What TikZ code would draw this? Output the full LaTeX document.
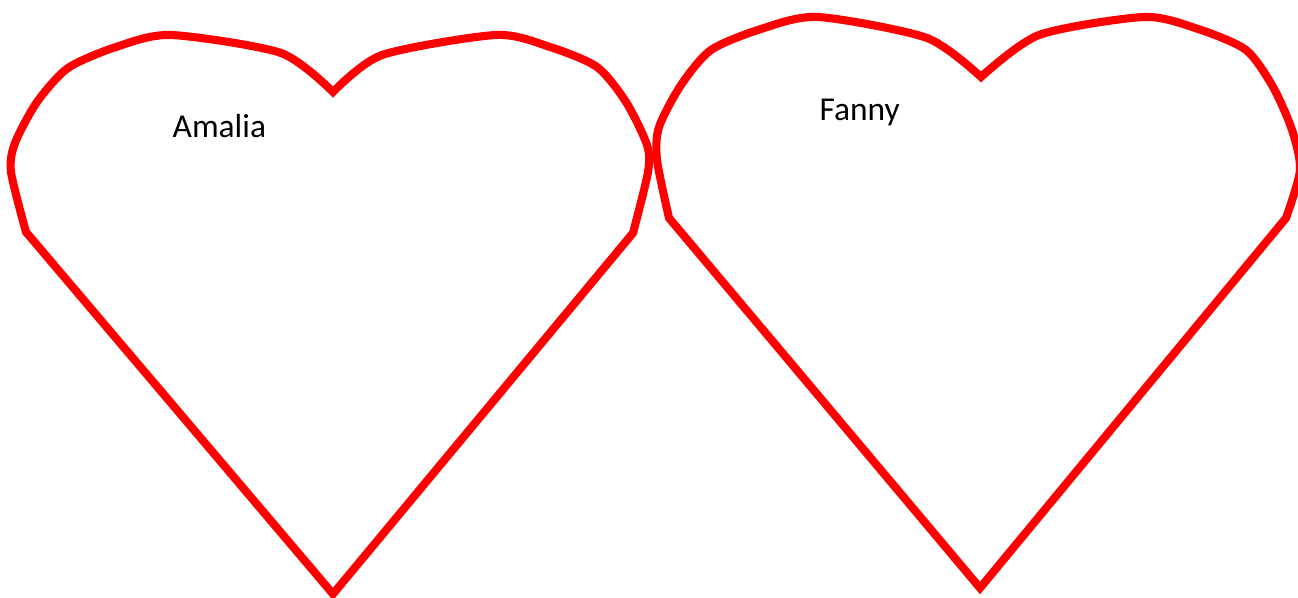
\documentclass[tikz,border=0pt]{standalone}
\usepackage{fontspec}
\setmainfont{Carlito}
\usetikzlibrary{positioning}

\begin{document}
\begin{tikzpicture}[x=0.01cm, y=-0.01cm,
    heartline/.style = {draw=red, line width=2.3pt, line join=miter},
    heartlabel/.style = {font=\fontsize{9.5}{11}\selectfont, anchor=base west, inner sep=0pt}]
    \useasboundingbox (0,0) rectangle (1298,598);

    % left heart
    \draw[heartline]
      plot[smooth, tension=0.45] coordinates {(333,92) (281,53) (171,35) (116,47) (68,68) (37,102) (15,143) (11,172) (26,232)}
      -- (333,594) -- (633,233)
      -- plot[smooth, tension=0.45] coordinates {(633,233) (648,172) (647,145) (626,102) (597,67) (550,47) (496,35) (382,55) (333,92)}
      -- cycle;
    \node[heartlabel] (amalia) at (172,138) {Amalia};

    % right heart
    \draw[heartline]
      plot[smooth, tension=0.45] coordinates {(981,77) (927,38) (818,17) (761,29) (711,50) (681,85) (659,127) (657,160) (669,218)}
      -- (980,588) -- (1286,218)
      -- plot[smooth, tension=0.45] coordinates {(1286,218) (1300,170) (1292,130) (1273,87) (1246,50) (1198,29) (1144,17) (1039,35) (981,77)}
      -- cycle;
    \node[heartlabel] (fanny) at (819,121) {Fanny};
\end{tikzpicture}
\end{document}
